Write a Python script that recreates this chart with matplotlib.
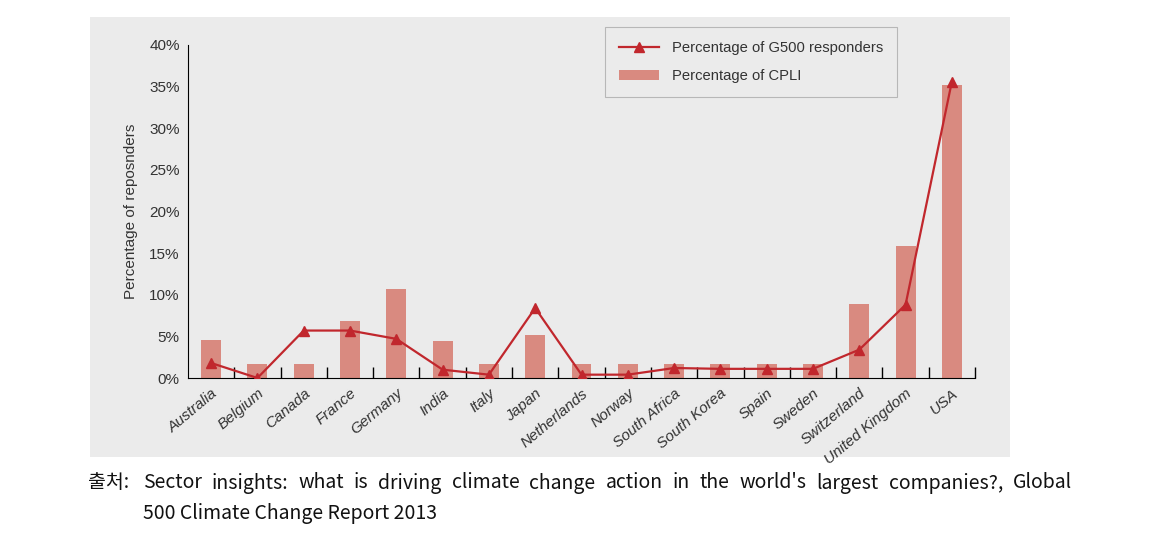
import matplotlib.pyplot as plt
from matplotlib.patches import Rectangle
from matplotlib.ticker import FixedLocator, FuncFormatter

countries = ["Australia", "Belgium", "Canada", "France", "Germany", "India", "Italy",
             "Japan", "Netherlands", "Norway", "South Africa", "South Korea", "Spain",
             "Sweden", "Switzerland", "United Kingdom", "USA"]
cpli = [4.6, 1.7, 1.7, 6.8, 10.7, 4.4, 1.7, 5.2, 1.7, 1.7, 1.7, 1.7, 1.7, 1.7, 8.9, 15.8, 35.2]
g500 = [1.8, 0.0, 5.7, 5.7, 4.7, 1.0, 0.4, 8.4, 0.4, 0.4, 1.2, 1.1, 1.1, 1.1, 3.4, 8.8, 35.6]
yticks = [0, 5, 10, 15, 20, 25, 30, 35, 40]
caption1 = "Sector insights: what is driving climate change action in the world's largest companies?, Global"
caption2 = "500 Climate Change Report 2013"

bar_color = "#d98a80"
line_color = "#c1272d"
txt_color = "#333333"
font = "Liberation Sans"
W, H = 1161, 547

fig = plt.figure(figsize=(W / 100, H / 100), dpi=100)
fig.patches.append(Rectangle((90 / W, 1 - 457 / H), 920 / W, 440 / H,
                             transform=fig.transFigure, facecolor="#ebebeb",
                             edgecolor="none", zorder=-10))

ax = fig.add_axes([188 / W, 1 - 378 / H, 787 / W, 333 / H])
ax.set_facecolor("none")
x = list(range(len(countries)))
ax.plot(x, g500, color=line_color, lw=1.6, marker="^", ms=6.5,
        label="Percentage of G500 responders", zorder=3)
ax.bar(x, cpli, width=0.43, color=bar_color, label="Percentage of CPLI", zorder=2)

ax.set_xlim(-0.5, len(countries) - 0.5)
ax.set_ylim(0, 40)
for s in ["top", "right"]:
    ax.spines[s].set_visible(False)

ax.set_yticks(yticks)
ax.yaxis.set_major_formatter(FuncFormatter(lambda v, p: f"{v:.0f}%"))
ax.tick_params(axis="y", length=0, pad=6, labelsize=11, labelcolor=txt_color)
for lab in ax.get_yticklabels():
    lab.set_fontfamily(font)

ax.set_xticks(x)
ax.set_xticklabels(countries, rotation=40, ha="right", rotation_mode="anchor",
                   fontsize=11, color=txt_color, family=font, style="italic")
ax.tick_params(axis="x", length=0, pad=6)
ax.xaxis.set_minor_locator(FixedLocator([i + 0.5 for i in x]))
ax.tick_params(axis="x", which="minor", direction="in", length=8, width=1)

ax.set_ylabel("Percentage of reposnders", fontsize=11, color=txt_color, family=font,
              labelpad=8)

leg = ax.legend(loc="upper left", bbox_to_anchor=(0.530, 1.054), borderaxespad=0,
                frameon=True, fancybox=False, edgecolor="#aaaaaa", facecolor="#ebebeb",
                prop={"family": font, "size": 10.6}, handlelength=2.7, borderpad=0.95,
                labelspacing=0.95, handletextpad=0.9)
leg.get_frame().set_linewidth(0.8)
for t in leg.get_texts():
    t.set_color(txt_color)

# caption, first line justified between x=143 and x=1072
cap_font = ["Noto Sans CJK KR", "DejaVu Sans"]
fs = 14
fig.text(88 / W, 1 - 483 / H, "출처:", fontsize=fs, family=cap_font,
         va="center", ha="left", color="#111111")
r = fig.canvas.get_renderer()
words = caption1.split(" ")
texts = [fig.text(0, 1 - 483 / H, w, fontsize=fs, family=cap_font, va="center",
                  ha="left", color="#111111") for w in words]
widths = [t.get_window_extent(r).width for t in texts]
x0, x1 = 143, 1072
gap = (x1 - x0 - sum(widths)) / (len(words) - 1)
pos = x0
for t, wd in zip(texts, widths):
    t.set_x(pos / W)
    pos += wd + gap
fig.text(143 / W, 1 - 514 / H, caption2, fontsize=fs, family=cap_font,
         va="center", ha="left", color="#111111")

fig.savefig("out.png", dpi=100)
